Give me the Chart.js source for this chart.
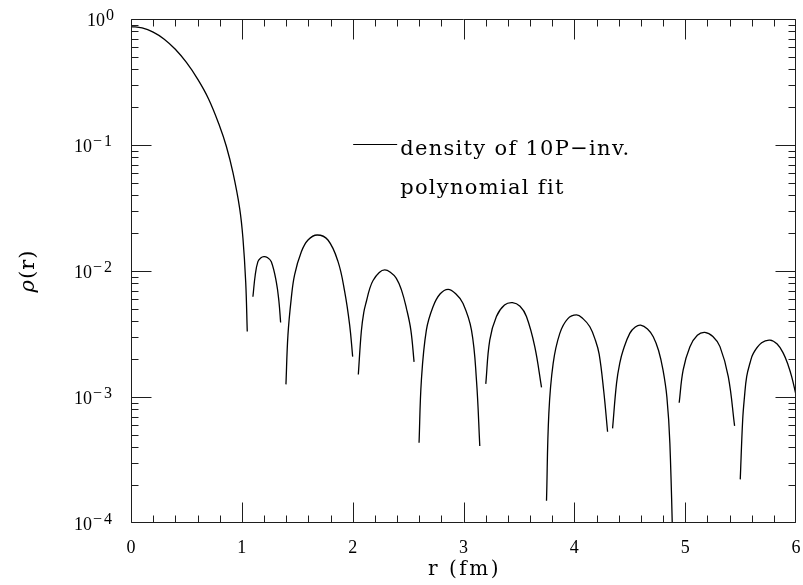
<!DOCTYPE html>
<html>
<head>
<meta charset="utf-8">
<script src="https://cdn.jsdelivr.net/npm/chart.js@4.4.1/dist/chart.umd.min.js"></script>
<style>
  html, body { margin: 0; padding: 0; background: #fff; }
  #wrap { width: 803px; height: 585px; }
</style>
</head>
<body>
<div id="wrap"><canvas id="c" width="803" height="585"></canvas></div>
<script>
// Radial density rho(r) of the 10P-inv. fit; each lobe is drawn as its own segment.
const lobeRadius = [
  [0, 0.1, 0.2, 0.3, 0.4, 0.5, 0.6, 0.7, 0.8, 0.86, 0.92, 0.98, 1.01, 1.035, 1.049],
  [1.100, 1.121, 1.145, 1.170, 1.199, 1.230, 1.266, 1.311, 1.335, 1.350],
  [1.398, 1.416, 1.446, 1.476, 1.537, 1.597, 1.680, 1.777, 1.868, 1.928, 1.973, 2.000],
  [2.051, 2.078, 2.100, 2.124, 2.154, 2.184, 2.240, 2.289, 2.340, 2.394, 2.440, 2.485, 2.525, 2.554],
  [2.599, 2.620, 2.665, 2.725, 2.790, 2.861, 2.930, 2.996, 3.072, 3.117, 3.147],
  [3.201, 3.237, 3.297, 3.370, 3.442, 3.510, 3.568, 3.643, 3.704],
  [3.749, 3.770, 3.809, 3.869, 3.940, 4.020, 4.080, 4.140, 4.190, 4.224, 4.265, 4.300],
  [4.345, 4.381, 4.410, 4.441, 4.500, 4.550, 4.598, 4.660, 4.712, 4.760, 4.800, 4.835, 4.862, 4.895],
  [4.946, 4.982, 5.043, 5.110, 5.178, 5.250, 5.314, 5.389, 5.446],
  [5.497, 5.519, 5.535, 5.555, 5.585, 5.615, 5.690, 5.765, 5.830, 5.886, 5.930, 5.961, 6.000]
];
const lobeDensity = [
  [0.871, 0.849, 0.787, 0.692, 0.575, 0.452, 0.335, 0.232, 0.141, 0.0977, 0.0603, 0.0316, 0.0182, 0.00813, 0.00331],
  [0.00625, 0.0093, 0.01186, 0.01268, 0.0130, 0.0128, 0.01186, 0.0082, 0.0057, 0.0039],
  [0.00126, 0.0031, 0.00607, 0.00933, 0.01422, 0.01762, 0.0193, 0.01762, 0.01186, 0.00686, 0.00372, 0.00209],
  [0.00151, 0.00331, 0.00468, 0.00575, 0.00724, 0.00841, 0.00973, 0.01019, 0.00977, 0.00875, 0.00708, 0.00506, 0.0034, 0.0019],
  [0.000434, 0.00136, 0.0034, 0.00521, 0.0066, 0.00716, 0.0066, 0.00553, 0.0034, 0.00136, 0.000408],
  [0.00127, 0.00283, 0.00435, 0.00537, 0.00561, 0.00525, 0.00435, 0.00251, 0.00119],
  [0.00015, 0.000741, 0.00185, 0.0032, 0.00417, 0.00448, 0.00417, 0.00361, 0.00282, 0.00219, 0.00112, 0.00053],
  [0.000564, 0.00129, 0.00186, 0.00236, 0.0032, 0.00359, 0.00372, 0.00347, 0.00301, 0.00234, 0.00164, 0.0010, 0.000429, 0.00004],
  [0.0009, 0.00164, 0.00251, 0.00309, 0.00326, 0.00302, 0.00251, 0.00145, 0.00059],
  [0.000222, 0.00066, 0.0010, 0.00145, 0.00186, 0.00222, 0.00269, 0.00283, 0.00263, 0.00222, 0.00178, 0.00145, 0.00104]
];

const xTickValues = [0, 1, 2, 3, 4, 5, 6];
const xMinorStep = 0.2;
const yDecadeExponents = [0, -1, -2, -3, -4];
const legendLines = ['density of 10P\u2212inv.', 'polynomial fit'];
const xTitle = 'r (fm)';
const yTitleSymbol = '\u03c1';
const yTitleArg = '(r)';

const serif = '"DejaVu Serif", serif';
const numFont = '"Liberation Serif", serif';

const datasets = lobeRadius.map((rs, i) => ({
  data: rs.map((r, j) => ({ x: r, y: lobeDensity[i][j] })),
  borderColor: '#000',
  borderWidth: 1.3,
  pointRadius: 0,
  fill: false,
  tension: 0.4
}));

// Inward tick marks on all four sides, frame, and all hand-placed text.
const decorations = {
  id: 'decorations',
  afterDatasetsDraw(chart) {
    const { ctx, chartArea: a, scales: { x, y } } = chart;
    const L = Math.round(a.left) + 0.5, R = Math.round(a.right) - 0.5;
    const T = Math.round(a.top) + 0.5, B = Math.round(a.bottom) - 0.5;
    ctx.save();
    ctx.strokeStyle = '#1e1e1e';
    ctx.lineWidth = 1;
    ctx.beginPath();
    ctx.rect(L, T, R - L, B - T);
    const xmaj = 20, xmin = 7;
    const xMin = xTickValues[0], xMax = xTickValues[xTickValues.length - 1];
    for (let k = 0; Math.round(xMin * 10 + k * xMinorStep * 10) <= xMax * 10; k++) {
      const v = xMin + k * xMinorStep;
      const isMajor = Math.abs(v - Math.round(v)) < 1e-6;
      const len = isMajor ? xmaj : xmin;
      const px = Math.min(R, Math.round(x.getPixelForValue(v)) + 0.5);
      ctx.moveTo(px, B); ctx.lineTo(px, B - len);
      ctx.moveTo(px, T); ctx.lineTo(px, T + len);
    }
    yDecadeExponents.forEach(e => {
      const py = Math.min(B, Math.round(y.getPixelForValue(Math.pow(10, e))) + 0.5);
      ctx.moveTo(L, py); ctx.lineTo(L + xmaj, py);
      ctx.moveTo(R, py); ctx.lineTo(R - xmaj, py);
      if (e > Math.min(...yDecadeExponents)) {
        for (let m = 2; m <= 9; m++) {
          const q = Math.round(y.getPixelForValue(m * Math.pow(10, e - 1))) + 0.5;
          ctx.moveTo(L, q); ctx.lineTo(L + xmin, q);
          ctx.moveTo(R, q); ctx.lineTo(R - xmin, q);
        }
      }
    });
    ctx.stroke();

    // y tick labels: 10 with a raised exponent
    ctx.fillStyle = '#000';
    ctx.textAlign = 'right';
    ctx.textBaseline = 'alphabetic';
    const labelRight = a.left - 17;
    yDecadeExponents.forEach(e => {
      const py = y.getPixelForValue(Math.pow(10, e));
      const ex = (e < 0 ? '\u2212' : '') + Math.abs(e);
      ctx.font = '16px ' + numFont;
      ctx.letterSpacing = e < 0 ? '2px' : '0px';
      const ew = ctx.measureText(ex).width;
      ctx.fillText(ex, labelRight, py + 1);
      ctx.letterSpacing = '0px';
      ctx.font = '18px ' + numFont;
      ctx.fillText('10', labelRight - ew - 1, py + 7);
    });

    // legend sample line and text
    const ly = y.getPixelForValue(0.1);
    const lx0 = x.getPixelForValue(2.0) + 0.5;
    ctx.beginPath();
    ctx.lineWidth = 1.2;
    ctx.strokeStyle = '#000';
    ctx.moveTo(lx0, Math.round(ly) - 0.5);
    ctx.lineTo(lx0 + 44, Math.round(ly) - 0.5);
    ctx.stroke();
    ctx.textAlign = 'left';
    ctx.font = '21px ' + serif;
    ctx.letterSpacing = '1.3px';
    ctx.fillText(legendLines[0], lx0 + 47, ly + 10);
    ctx.fillText(legendLines[1], lx0 + 47, ly + 49);

    // x axis title
    ctx.textAlign = 'center';
    ctx.font = '20px ' + serif;
    ctx.letterSpacing = '2.5px';
    ctx.fillText(xTitle, (a.left + a.right) / 2 + 1, a.bottom + 52);

    // y axis title, rotated: italic rho followed by upright (r)
    ctx.translate(29, (a.top + a.bottom) / 2);
    ctx.rotate(-Math.PI / 2);
    ctx.letterSpacing = '1px';
    ctx.font = 'italic 21px ' + serif;
    const w1 = ctx.measureText(yTitleSymbol).width;
    ctx.font = '21px ' + serif;
    const w2 = ctx.measureText(yTitleArg).width;
    const start = -(w1 + w2) / 2;
    ctx.textAlign = 'left';
    ctx.textBaseline = 'middle';
    ctx.font = 'italic 21px ' + serif;
    ctx.fillText(yTitleSymbol, start, 0);
    ctx.font = '21px ' + serif;
    ctx.fillText(yTitleArg, start + w1, 0);
    ctx.restore();
  }
};

new Chart(document.getElementById('c'), {
  type: 'line',
  data: { datasets },
  options: {
    responsive: false,
    animation: false,
    devicePixelRatio: 1,
    layout: { padding: { top: 19, right: 7, left: 0, bottom: 0 } },
    plugins: { legend: { display: false }, tooltip: { enabled: false } },
    scales: {
      x: {
        type: 'linear',
        min: xTickValues[0],
        max: xTickValues[xTickValues.length - 1],
        afterFit: s => { s.height = 62; s.paddingLeft = 0; s.paddingRight = 0; },
        grid: { display: false },
        border: { display: false },
        ticks: {
          stepSize: 1,
          padding: 6,
          maxRotation: 0,
          color: '#000',
          font: { family: numFont, size: 18 },
          callback: v => String(v)
        }
      },
      y: {
        type: 'logarithmic',
        min: Math.pow(10, Math.min(...yDecadeExponents)),
        max: Math.pow(10, Math.max(...yDecadeExponents)),
        afterFit: s => { s.width = 131; s.paddingTop = 0; s.paddingBottom = 0; },
        grid: { display: false },
        border: { display: false },
        ticks: { display: false }
      }
    }
  },
  plugins: [decorations]
});
</script>
</body>
</html>
